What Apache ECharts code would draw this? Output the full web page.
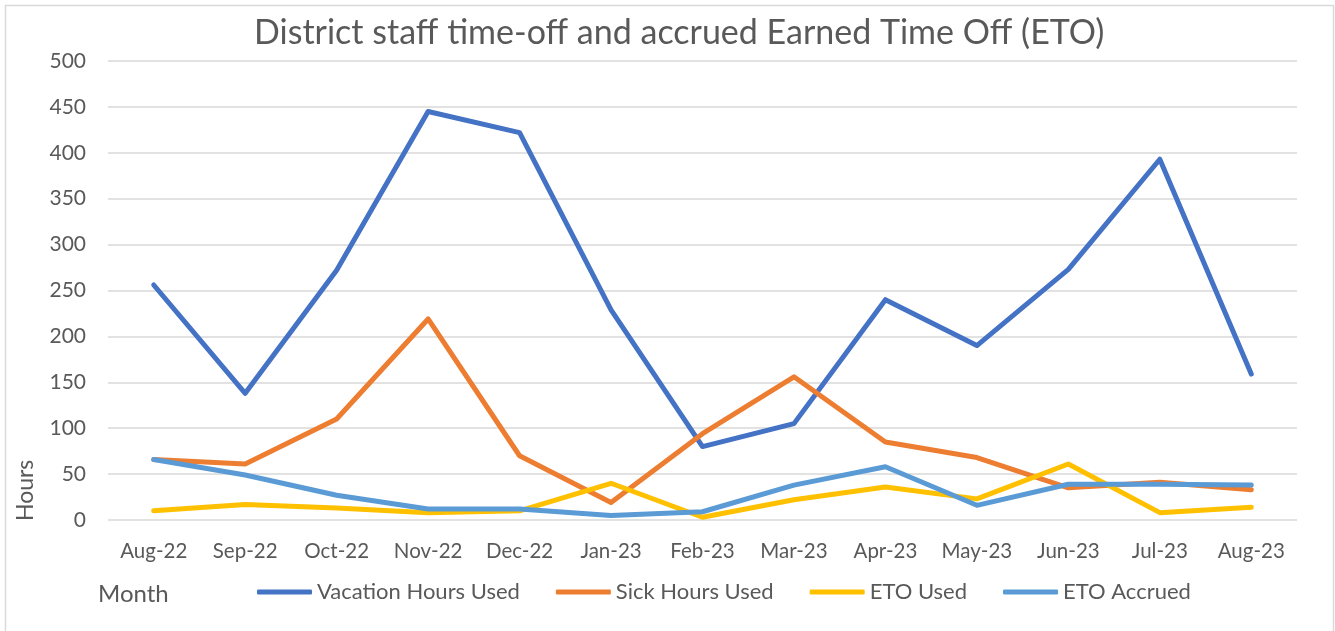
<!DOCTYPE html>
<html><head><meta charset="utf-8">
<script src="https://cdn.jsdelivr.net/npm/echarts@6/dist/echarts.min.js"></script>
<style>html,body{margin:0;padding:0;background:#fff}#c{width:1335px;height:631px}</style>
</head><body><div id="c"></div>
<script>
const months = ['Aug-22','Sep-22','Oct-22','Nov-22','Dec-22','Jan-23','Feb-23','Mar-23','Apr-23','May-23','Jun-23','Jul-23','Aug-23'];
const vacationHours = [256, 138, 272, 445, 422, 229, 80, 105, 240, 190, 273, 393, 159];
const sickHours = [66, 61, 110, 219, 70, 19, 94, 156, 85, 68, 35, 41, 33];
const etoUsed = [10, 17, 13, 8, 10, 40, 3, 22, 36, 23, 61, 8, 14];
const etoAccrued = [66, 49, 27, 12, 12, 5, 9, 38, 58, 16, 39, 39, 38];
const yTicks = [0, 50, 100, 150, 200, 250, 300, 350, 400, 450, 500];

const FONT = 'Lato';
const TXT = '#595959';
function mk(name, data, color) {
  return { name, type: 'line', data, symbol: 'none', lineStyle: { width: 5, color, cap: 'round', join: 'round' }, itemStyle: { color } };
}
const chart = echarts.init(document.getElementById('c'), null, { renderer: 'canvas' });
chart.setOption({
  animation: false,
  title: { text: 'District staff time-off and accrued Earned Time Off (ETO)', left: 249, top: 11,
    textStyle: { fontFamily: FONT, fontSize: 34, fontWeight: 'normal', color: TXT } },
  grid: { left: 108, right: 38, top: 61, bottom: 111, containLabel: false },
  legend: { left: 252, top: 576, itemWidth: 55, itemHeight: 5, itemGap: 36, icon: 'roundRect',
    textStyle: { fontFamily: FONT, fontSize: 22, color: TXT } },
  xAxis: { type: 'category', data: months, boundaryGap: true,
    axisLine: { show: false }, axisTick: { show: false },
    axisLabel: { fontFamily: FONT, fontSize: 20.5, color: TXT, margin: 21, interval: 0 } },
  yAxis: { type: 'value', min: yTicks[0], max: yTicks[yTicks.length - 1], interval: 50,
    axisLine: { show: false }, axisTick: { show: false },
    splitLine: { lineStyle: { color: '#d9d9d9', width: 1.5 } },
    axisLabel: { fontFamily: FONT, fontSize: 21, color: TXT, margin: 22 } },
  graphic: [
    { type: 'rect', shape: { x: 5.5, y: 5.5, width: 1328, height: 640 }, style: { fill: 'none', stroke: '#d9d9d9', lineWidth: 1.5 }, silent: true },
    { type: 'text', left: 98, top: 582, style: { text: 'Month', font: '24px Lato', fill: TXT } },
    { type: 'text', x: 14, y: 521, rotation: Math.PI / 2, style: { text: 'Hours', font: '23px Lato', fill: TXT, textAlign: 'left', textVerticalAlign: 'top' } }
  ],
  series: [
    mk('Vacation Hours Used', vacationHours, '#4472C4'),
    mk('Sick Hours Used', sickHours, '#ED7D31'),
    mk('ETO Used', etoUsed, '#FFC000'),
    mk('ETO Accrued', etoAccrued, '#5B9BD5')
  ]
});
</script></body></html>
